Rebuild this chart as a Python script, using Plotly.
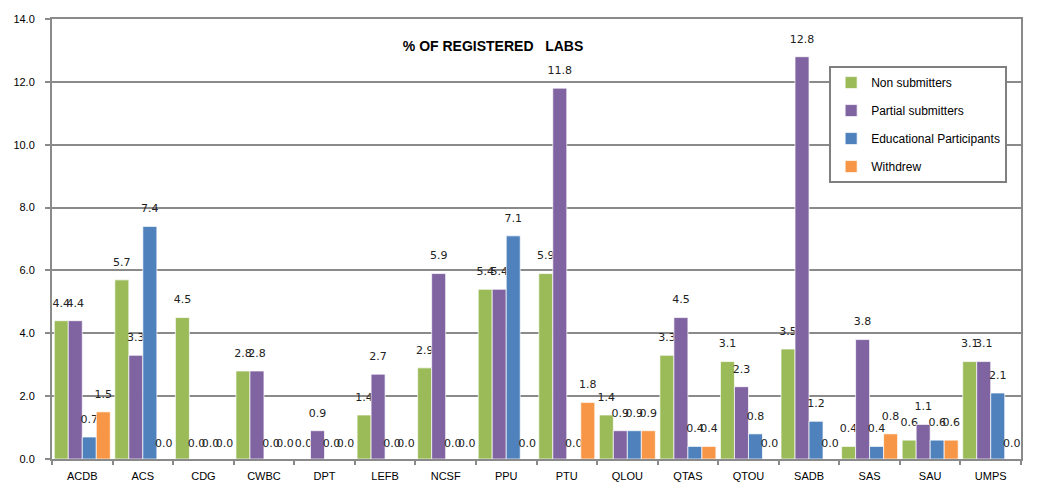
import plotly.graph_objects as go

categories = ["ACDB", "ACS", "CDG", "CWBC", "DPT", "LEFB", "NCSF", "PPU",
              "PTU", "QLOU", "QTAS", "QTOU", "SADB", "SAS", "SAU", "UMPS"]

non_submitters = [4.4, 5.7, 4.5, 2.8, 0.0, 1.4, 2.9, 5.4, 5.9, 1.4, 3.3, 3.1, 3.5, 0.4, 0.6, 3.1]
partial_submitters = [4.4, 3.3, 0.0, 2.8, 0.9, 2.7, 5.9, 5.4, 11.8, 0.9, 4.5, 2.3, 12.8, 3.8, 1.1, 3.1]
educational = [0.7, 7.4, 0.0, 0.0, 0.0, 0.0, 0.0, 7.1, 0.0, 0.9, 0.4, 0.8, 1.2, 0.4, 0.6, 2.1]
withdrew = [1.5, 0.0, 0.0, 0.0, 0.0, 0.0, 0.0, 0.0, 1.8, 0.9, 0.4, 0.0, 0.0, 0.8, 0.6, 0.0]

series = [
    ("Non submitters", non_submitters, "#9BBB59"),
    ("Partial submitters", partial_submitters, "#8064A2"),
    ("Educational Participants", educational, "#4F81BD"),
    ("Withdrew", withdrew, "#F79646"),
]

fig = go.Figure()
for i, (name, vals, color) in enumerate(series):
    fig.add_trace(go.Bar(
        x=categories, y=vals, name=name,
        marker=dict(color=color, line=dict(color="rgba(255,255,255,0.7)", width=1)),
        text=[f"{v:.1f}" for v in vals],
        # value label on its own line; the spacer line below it lifts it off the bar
        texttemplate="<span style='font-size:11px'>%{text}</span><br> ",
        textposition="outside",
        constraintext="none",
        cliponaxis=False,
        # empty bars get a slimmer spacer line
        textfont=dict(family="DejaVu Sans", color="#222222",
                      size=[7 if v > 0 else 6 for v in vals]),
        legendgroup=f"g{i}",
    ))

grid = "#8a8a8a"
fig.update_layout(
    width=1038, height=482,
    barmode="group", bargap=0.075, bargroupgap=0,
    plot_bgcolor="white", paper_bgcolor="white",
    margin=dict(l=52, r=17, t=19, b=23),
    font=dict(family="Liberation Sans", size=11, color="#000000"),
    title=dict(text="<b>% OF REGISTERED   LABS</b>", x=0.475, xanchor="center",
               y=1 - 46 / 482, yanchor="middle",
               font=dict(family="Liberation Sans", size=14, color="#000000")),
    legend=dict(x=0.802, y=0.893, xanchor="left", yanchor="top",
                bgcolor="white", bordercolor="#7f7f7f", borderwidth=2,
                font=dict(family="Liberation Sans", size=12),
                tracegroupgap=9, itemwidth=30),
    showlegend=True,
)
fig.update_xaxes(
    type="category", tickson="boundaries", ticks="outside", ticklen=4,
    tickcolor=grid, tickwidth=2, showline=True, linecolor=grid, linewidth=2,
    mirror=True, showgrid=False, ticklabelstandoff=6, automargin=False,
    tickfont=dict(family="Liberation Sans", size=11),
)
fig.update_yaxes(
    range=[0, 14], dtick=2, tickformat=".1f", ticks="outside", ticklen=5,
    tickcolor=grid, tickwidth=2, showline=True, linecolor=grid, linewidth=2,
    mirror=True, showgrid=True, gridcolor=grid, gridwidth=2, zeroline=False,
    ticklabelstandoff=8,
    tickfont=dict(family="Liberation Sans", size=11),
)

fig.write_html("out.html")
